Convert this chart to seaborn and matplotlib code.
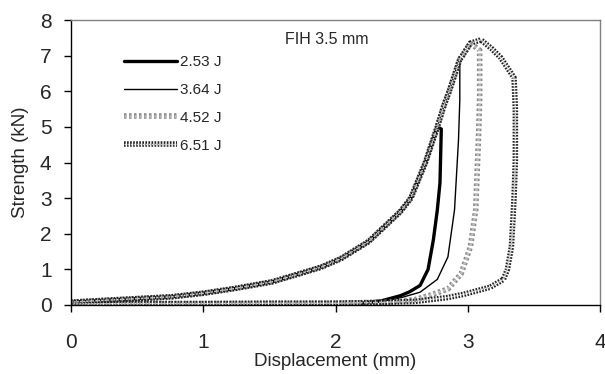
import numpy as np
import pandas as pd
import matplotlib
matplotlib.use("Agg")
import matplotlib.pyplot as plt
import matplotlib.patheffects as pe
import seaborn as sns

# ---- data ----
energies = ["2.53 J", "3.64 J", "4.52 J", "6.51 J"]

# common loading path (displacement mm, strength kN)
load_x = [0.00, 0.30, 0.76, 1.00, 1.25, 1.52, 1.73, 1.89, 2.04, 2.25, 2.49, 2.57,
          2.68, 2.77, 2.82, 2.86, 2.94, 2.96, 3.02, 3.10]
load_y = [0.08, 0.14, 0.23, 0.33, 0.47, 0.65, 0.88, 1.06, 1.30, 1.78, 2.62, 3.00,
          4.00, 5.00, 5.60, 6.00, 6.90, 7.00, 7.35, 7.44]

# peak displacement reached along the loading path for each test
peak_x = [2.80, 2.94, 3.02, 3.10]
peak_y = [4.94, 6.95, 7.35, 7.44]

# unloading branches
unl_x_253 = [2.80, 2.79, 2.77, 2.74, 2.70, 2.64, 2.56, 2.49, 2.35, 2.20]
unl_y_253 = [4.94, 3.43, 2.67, 1.83, 1.00, 0.55, 0.37, 0.26, 0.12, 0.05]

unl_x_364 = [2.94, 2.94, 2.93, 2.90, 2.85, 2.77, 2.64, 2.49, 2.35, 2.25]
unl_y_364 = [6.95, 5.76, 4.63, 2.67, 1.35, 0.72, 0.36, 0.20, 0.10, 0.05]

unl_x_452 = [3.09, 3.09, 3.08, 3.06, 3.02, 2.95, 2.85, 2.72, 2.60, 2.40, 2.00,
             1.50, 1.00, 0.50, 0.00]
unl_y_452 = [7.15, 5.80, 4.58, 2.67, 1.63, 0.88, 0.45, 0.28, 0.15, 0.08, 0.05,
             0.04, 0.04, 0.04, 0.03]

unl_x_651 = [3.18, 3.25, 3.35, 3.36, 3.36, 3.35, 3.34, 3.33, 3.30, 3.27, 3.17,
             2.97, 2.85, 2.60, 2.30, 2.00, 1.50, 1.00, 0.50, 0.00]
unl_y_651 = [7.20, 6.94, 6.38, 5.50, 4.07, 3.00, 2.30, 1.63, 1.00, 0.72, 0.50,
             0.30, 0.21, 0.10, 0.07, 0.05, 0.05, 0.04, 0.04, 0.03]

unloads = [(unl_x_253, unl_y_253), (unl_x_364, unl_y_364),
           (unl_x_452, unl_y_452), (unl_x_651, unl_y_651)]

x_ticks = [0, 1, 2, 3, 4]
y_ticks = [0, 1, 2, 3, 4, 5, 6, 7, 8]

# ---- build long table ----
frames = []
lx = np.array(load_x)
ly = np.array(load_y)
for name, px, py, (ux, uy) in zip(energies, peak_x, peak_y, unloads):
    keep = lx < px
    xs = np.concatenate([lx[keep], [px], ux])
    ys = np.concatenate([ly[keep], [py], uy])
    frames.append(pd.DataFrame({"disp": xs, "force": ys, "energy": name,
                                "order": np.arange(len(xs))}))
df = pd.concat(frames, ignore_index=True)

# ---- plot ----
sns.set_theme(style="white")
plt.rcParams["font.family"] = ["Liberation Sans", "DejaVu Sans"]

fig = plt.figure(figsize=(6.05, 3.74), dpi=100)
ax = fig.add_axes([71 / 605, 69 / 374, 529 / 605, 285 / 374])

styles = {
    "2.53 J": dict(color="black", linewidth=2.4),
    "3.64 J": dict(color="black", linewidth=1.0),
    "4.52 J": dict(color="#bdbdbd", linewidth=1.8, dashes=(1, 1),
                   path_effects=[pe.Stroke(linewidth=4.0, foreground="#8a8a8a"), pe.Normal()]),
    "6.51 J": dict(color="#d8d8d8", linewidth=1.0, dashes=(1.2, 1.0),
                   path_effects=[pe.Stroke(linewidth=4.0, foreground="#222222"), pe.Normal()]),
}

for name in energies:
    sub = df[df["energy"] == name]
    sns.lineplot(data=sub, x="disp", y="force", sort=False, estimator=None,
                 ax=ax, label=name, **styles[name])

ax.set_xlim(0, 4)
ax.set_ylim(0, 8)
ax.set_xticks(x_ticks)
ax.set_yticks(y_ticks)
ax.set_xticklabels([str(t) for t in x_ticks])
ax.set_yticklabels([str(t) for t in y_ticks])
ax.tick_params(axis="x", direction="out", length=5, width=1, color="black",
               labelsize=15, pad=15, bottom=True)
ax.tick_params(axis="y", direction="out", length=5, width=1, color="black",
               labelsize=15, pad=9, left=True)

ax.set_xlabel("Displacement (mm)", fontsize=13.5, labelpad=1)
ax.set_ylabel("Strength (kN)", fontsize=13.5, labelpad=8)

for s in ["left", "bottom"]:
    ax.spines[s].set_color("black")
    ax.spines[s].set_linewidth(1.0)
for s in ["top", "right"]:
    ax.spines[s].set_color("#808080")
    ax.spines[s].set_linewidth(1.0)
ax.grid(False)

ax.text(1.62, 7.44, "FIH 3.5 mm", fontsize=11.5, ha="left", va="center")

ax.legend(loc="upper left", bbox_to_anchor=(0.100, 0.876), frameon=False,
          fontsize=11, handlelength=3.5, handletextpad=0.15,
          labelspacing=0.9, borderpad=0, borderaxespad=0)

fig.savefig("out.png", dpi=100)
